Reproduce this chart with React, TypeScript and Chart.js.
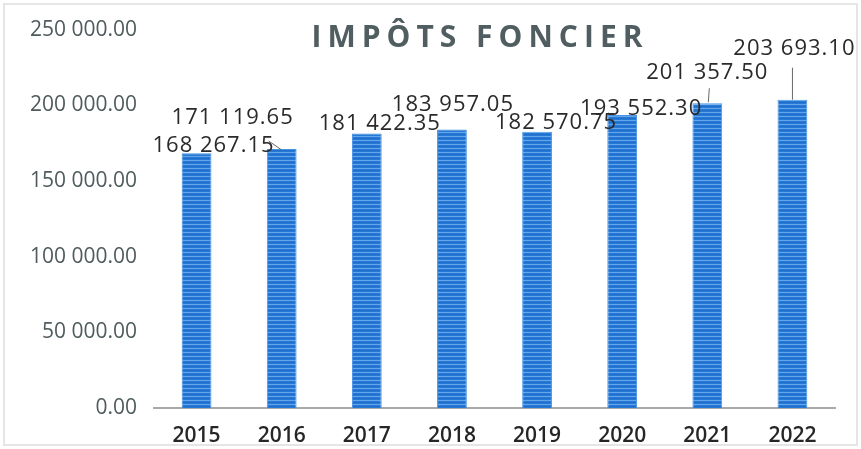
import React, { useEffect, useRef } from 'react';
import { Chart, registerables } from 'chart.js';

Chart.register(...registerables);

const years = ['2015', '2016', '2017', '2018', '2019', '2020', '2021', '2022'];
const impots = [168267.15, 171119.65, 181422.35, 183957.05, 182570.75, 193552.3, 201357.5, 203693.1];
const yTicks = [0, 50000, 100000, 150000, 200000, 250000];
const titleText = 'IMPÔTS FONCIER';
// label offsets relative to bar top centre [dx, dy]
const labelOffsets = [
  [17, -8],
  [-49, -31],
  [13, -10],
  [1, -25],
  [19, -9],
  [19, -6],
  [0, -30],
  [2, -51],
];
// leader lines relative to bar top centre [x1, y1, x2, y2], null = none
const leaders: (number[] | null)[] = [null, [-13, -8, 0, 1], null, null, null, null, [2, -15, 1, -1], [0, -32, 0, 0]];

function fmt(n: number): string {
  const [i, d] = n.toFixed(2).split('.');
  return i.replace(/\B(?=(\d{3})+(?!\d))/g, ' ') + '.' + d;
}

function makePattern(): CanvasPattern | string {
  const c = document.createElement('canvas');
  c.width = 8;
  c.height = 4;
  const g = c.getContext('2d');
  if (!g) return '#2a7bd6';
  g.fillStyle = '#2679d6';
  g.fillRect(0, 0, 8, 4);
  g.fillStyle = '#64a4e8';
  g.fillRect(0, 0, 8, 1);
  g.fillStyle = '#1f6fcb';
  g.fillRect(0, 2, 8, 1);
  return g.createPattern(c, 'repeat') || '#2a7bd6';
}

const overlayPlugin = {
  id: 'overlay',
  afterDatasetsDraw(chart: any) {
    const ctx = chart.ctx as CanvasRenderingContext2D;
    const meta = chart.getDatasetMeta(0);
    ctx.save();
    ctx.font = '22px "Open Sans"';
    (ctx as any).letterSpacing = '1px';
    ctx.textAlign = 'center';
    ctx.textBaseline = 'middle';
    meta.data.forEach((bar: any, i: number) => {
      const x = bar.x;
      const y = bar.y;
      const lead = leaders[i];
      if (lead) {
        ctx.strokeStyle = '#666';
        ctx.lineWidth = 1;
        ctx.beginPath();
        ctx.moveTo(x + lead[0], y + lead[1]);
        ctx.lineTo(x + lead[2], y + lead[3]);
        ctx.stroke();
      }
      const [dx, dy] = labelOffsets[i];
      ctx.fillStyle = '#2a2a2a';
      ctx.fillText(fmt(impots[i]), x + dx, y + dy);
    });
    ctx.restore();
  },
  afterDraw(chart: any) {
    const ctx = chart.ctx as CanvasRenderingContext2D;
    ctx.save();
    ctx.font = 'bold 30px "Open Sans"';
    (ctx as any).letterSpacing = '6px';
    ctx.textAlign = 'center';
    ctx.textBaseline = 'middle';
    ctx.fillStyle = '#515e61';
    ctx.fillText(titleText, 480, 38);
    ctx.strokeStyle = '#e4e6e6';
    ctx.lineWidth = 2;
    ctx.strokeRect(4, 4, chart.width - 8, chart.height - 8);
    ctx.restore();
  },
};

export default function App() {
  const ref = useRef<HTMLCanvasElement | null>(null);
  useEffect(() => {
    if (!ref.current) return;
    const pattern = makePattern();
    const chart = new Chart(ref.current, {
      type: 'bar',
      data: {
        labels: years,
        datasets: [
          {
            data: impots,
            backgroundColor: pattern as any,
            borderColor: '#4593e3',
            borderWidth: 1,
            barPercentage: 0.35,
            categoryPercentage: 1,
          },
        ],
      },
      options: {
        animation: false,
        responsive: false,
        maintainAspectRatio: false,
        layout: { padding: { left: 0, right: 26, top: 28, bottom: 0 } },
        plugins: {
          legend: { display: false },
          title: { display: false },
          tooltip: { enabled: false },
        },
        scales: {
          x: {
            grid: { display: false, drawTicks: false },
            border: { display: true, color: '#a9a9a9', width: 2 },
            ticks: {
              color: '#262626',
              font: { family: 'Open Sans', size: 21, weight: '600' as any },
              padding: 15,
            },
            afterFit(scale: any) {
              scale.height = 41;
            },
          },
          y: {
            min: 0,
            max: 250000,
            grid: { display: false, drawTicks: false },
            border: { display: false },
            afterBuildTicks(scale: any) {
              scale.ticks = yTicks.map((v) => ({ value: v }));
            },
            ticks: {
              color: '#4f5b5d',
              font: { family: 'Open Sans', size: 21 },
              padding: 17,
              callback: (v: any) => fmt(Number(v)),
            },
            afterFit(scale: any) {
              scale.width = 154;
            },
          },
        },
      },
      plugins: [overlayPlugin],
    });
    return () => chart.destroy();
  }, []);
  return (
    <div style={{ position: 'fixed', left: 0, top: 0, width: 861, height: 449, background: '#fff' }}>
      <canvas ref={ref} width={861} height={449} style={{ width: 861, height: 449, display: 'block' }} />
    </div>
  );
}
